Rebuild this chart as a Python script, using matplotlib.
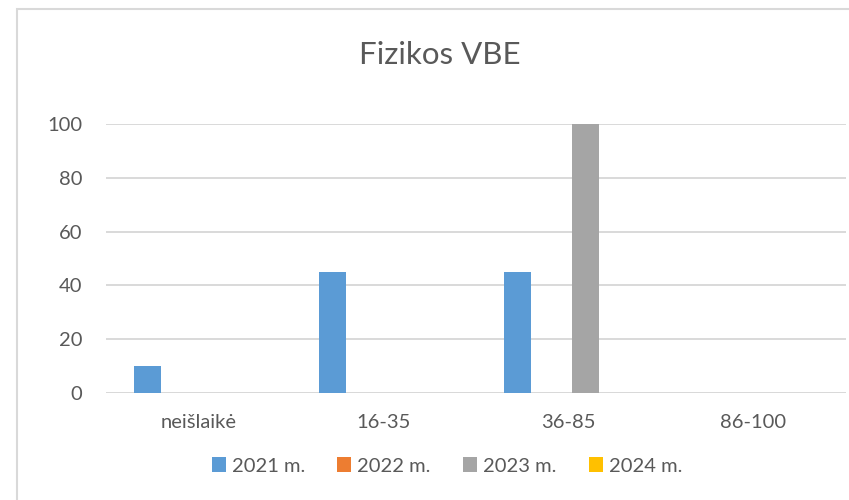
import matplotlib
matplotlib.use("Agg")
import matplotlib.pyplot as plt
from matplotlib.patches import Patch, Rectangle
import numpy as np

plt.rcParams['font.family'] = ['Lato', 'DejaVu Sans']

title = "Fizikos VBE"
categories = ["neišlaikė", "16-35", "36-85", "86-100"]
series_names = ["2021 m.", "2022 m.", "2023 m.", "2024 m."]
v2021 = [10, 45, 45, 0]
v2022 = [0, 0, 0, 0]
v2023 = [0, 0, 100, 0]
v2024 = [0, 0, 0, 0]
yticks = [0, 20, 40, 60, 80, 100]

series = [v2021, v2022, v2023, v2024]
colors = ["#5B9BD5", "#ED7D31", "#A5A5A5", "#FFC000"]
text_color = "#595959"
grid_color = "#D9D9D9"

fig = plt.figure(figsize=(8.49, 5.0), dpi=100)
ax = fig.add_axes([106/849, 1-392.7/500, 740/849, (392.7-124.3)/500])

x = np.arange(len(categories))
slot = 34/185
width = 26.5/185
for i, (vals, c) in enumerate(zip(series, colors)):
    ax.bar(x + (i-1.5)*slot, vals, width=width, color=c, zorder=3, linewidth=0)

ax.set_xlim(-0.5, len(categories)-0.5)
ax.set_ylim(0, 100)
ax.set_yticks(yticks)
ax.set_xticks(x)
ax.set_xticklabels(categories)
for s in ax.spines.values():
    s.set_visible(False)
ax.yaxis.grid(True, color=grid_color, linewidth=1.4, zorder=0)
ax.axhline(0, color=grid_color, linewidth=1.4, zorder=1)
ax.tick_params(axis='both', length=0, colors=text_color, labelsize=14.5)
ax.tick_params(axis='y', pad=17)
ax.tick_params(axis='x', pad=15)

fig.text(440/849, 1-54.5/500, title, ha='center', va='center', fontsize=22.5, color=text_color)

handles = [Patch(facecolor=c, edgecolor='none') for c in colors]
leg = fig.legend(handles, series_names, loc='center', bbox_to_anchor=(447/849, 1-466/500),
                 ncol=4, frameon=False, fontsize=14.5, handlelength=0.7, handleheight=0.7,
                 handletextpad=0.3, columnspacing=1.6, labelcolor=text_color)

fig.patches.append(Rectangle((17/849, -0.1), 1.0, 1-9/500+0.1, transform=fig.transFigure,
                             fill=False, edgecolor=grid_color, linewidth=1.5))

fig.savefig("out.png", dpi=100)
